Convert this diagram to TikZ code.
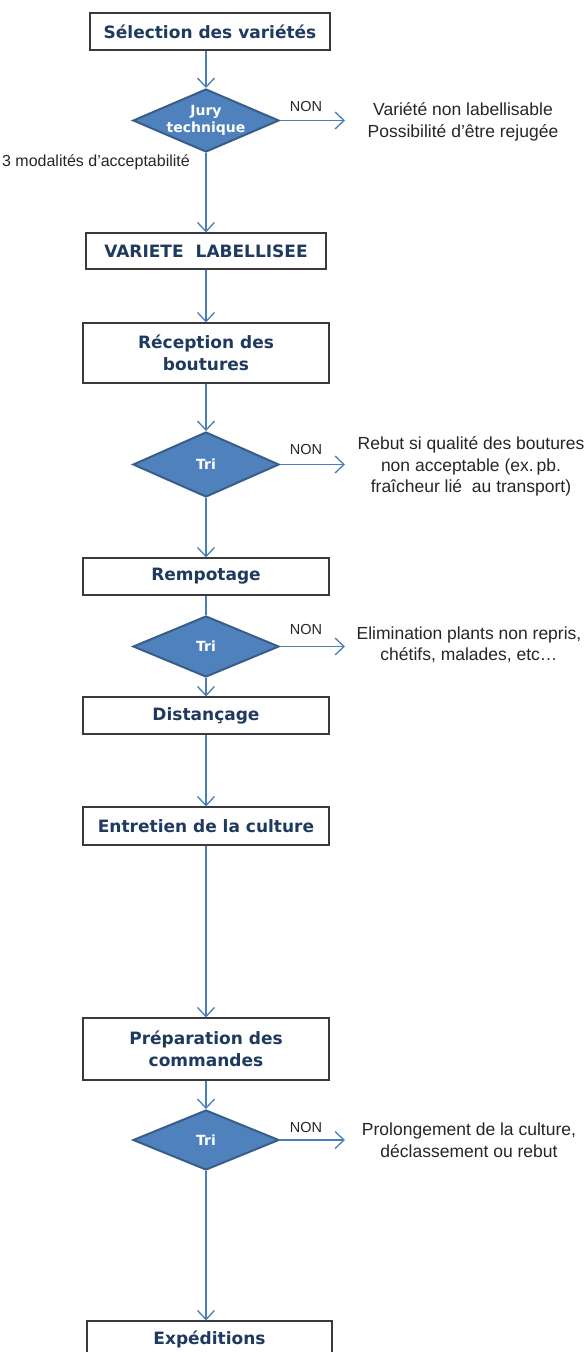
\documentclass[tikz,border=0pt]{standalone}
\usepackage{fontspec}
\setmainfont{Liberation Sans}
\newfontfamily\boxfont{DejaVu Sans}
\usetikzlibrary{shapes.geometric,arrows.meta}
\definecolor{navy}{HTML}{1F3A5F}
\definecolor{dfill}{HTML}{4F81BD}
\definecolor{dline}{HTML}{385D8A}
\definecolor{arr}{HTML}{4A7EBB}
\definecolor{boxline}{HTML}{3A3A3A}
\definecolor{txt}{HTML}{262626}
\begin{document}
\begin{tikzpicture}[x=1pt,y=-1pt,
 stepbox/.style={draw=boxline,line width=1.2pt,fill=white,minimum width=246pt,inner sep=0pt,align=center,text=navy,font=\boxfont\bfseries\fontsize{17}{22.5}\selectfont},
 decision/.style={diamond,draw=dline,line width=2pt,fill=dfill,minimum width=146pt,minimum height=63pt,inner sep=0pt},
 dlabel/.style={text=white,align=center,inner sep=0pt,font=\boxfont\bfseries\fontsize{14}{17}\selectfont},
 flow/.style={draw=arr,line width=1.3pt,-{Straight Barb[length=9pt,width=17pt,line width=1.3pt]}},
 plain/.style={draw=arr,line width=1.3pt},
 nonlab/.style={text=txt,font=\fontsize{14.5}{17}\selectfont,inner sep=0pt},
 modal/.style={text=txt,font=\fontsize{16}{18}\selectfont,inner sep=0pt},
 side/.style={text=txt,align=center,font=\fontsize{17.5}{21.5}\selectfont,inner sep=0pt}]

\clip (0,0) rectangle (586,1352);
\fill[white] (0,0) rectangle (586,1352);

% main column
\node[stepbox,minimum width=240pt,minimum height=37pt] (sel) at (210,31.5) {Sélection des variétés};
\node[decision] (jury) at (206,120.5) {};
\node[dlabel] (juryt) at (jury.center) {Jury\\technique};
\node[stepbox,minimum width=240pt,minimum height=36pt] (vl) at (206,251) {VARIETE\hspace{12pt}LABELLISEE};
\node[stepbox,minimum height=60pt] (rec) at (206,353) {Réception des\\boutures};
\node[decision,minimum height=65pt] (tri1) at (206,464.5) {};
\node[dlabel] (tri1t) at (tri1.center) {Tri};
\node[stepbox,minimum height=37pt] (remp) at (206,576.5) {Rempotage};
\node[decision,minimum height=61pt] (tri2) at (206,646.5) {};
\node[dlabel] (tri2t) at (tri2.center) {Tri};
\node[stepbox,minimum height=37pt] (dist) at (206,715.5) {Distançage};
\node[stepbox,minimum height=38pt] (entr) at (206,826) {Entretien de la culture};
\node[stepbox,minimum height=62pt] (prep) at (206,1049) {Préparation des\\commandes};
\node[decision,minimum height=60pt] (tri3) at (206,1140) {};
\node[dlabel] (tri3t) at (tri3.center) {Tri};
\node[stepbox,minimum width=245pt,minimum height=37pt] (exp) at (209.5,1339.5) {Expéditions};

% vertical connectors
\draw[flow] (sel.south -| jury.north) -- (jury.north);
\draw[flow] (jury.south) -- (jury.south |- vl.north);
\draw[flow] (vl) -- (rec);
\draw[flow] (rec) -- (tri1);
\draw[flow] (tri1) -- (remp);
\draw[plain] (remp) -- (tri2);
\draw[flow] (tri2) -- (dist);
\draw[flow] (dist) -- (entr);
\draw[flow] (entr) -- (prep);
\draw[flow] (prep) -- (tri3);
\draw[flow] (tri3.south) -- (tri3.south |- exp.north);

% NON branches
\coordinate (e1) at (345,120.5);
\coordinate (e2) at (345,464.5);
\coordinate (e3) at (345,646.5);
\coordinate (e4) at (345,1140);
\draw[flow] (jury.east) -- (e1);
\draw[flow] (tri1.east) -- (e2);
\draw[flow] (tri2.east) -- (e3);
\draw[flow] (tri3.east) -- (e4);

\node[nonlab] (non1) at (306,107) {NON};
\node[nonlab] (non2) at (306,450) {NON};
\node[nonlab] (non3) at (306,630) {NON};
\node[nonlab] (non4) at (306,1127) {NON};

\node[side] (t1) at (463,122) {Variété non labellisable\\Possibilité d’être rejugée};
\node[side] (t2) at (471,466.5) {Rebut si qualité des boutures\\non acceptable (ex.\,pb.\\fraîcheur lié \ au transport)};
\node[side] (t3) at (469,645) {Elimination plants non repris,\\chétifs, malades, etc…};
\node[side] (t4) at (469,1140) {Prolongement de la culture,\\déclassement ou rebut};

\node[modal,anchor=east] (mod) at (190,162) {3 modalités d’acceptabilité};
\end{tikzpicture}
\end{document}
